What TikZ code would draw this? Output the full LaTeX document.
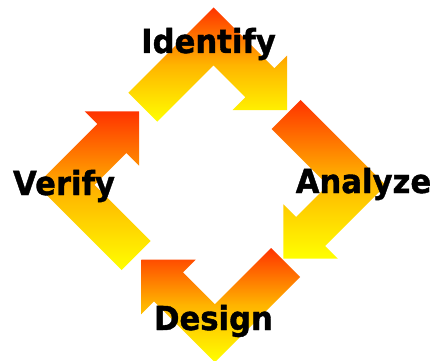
\documentclass[tikz,border=0pt]{standalone}
\usepackage{fontspec}
\newfontfamily\lblfont{DejaVu Sans}[BoldFeatures={FakeBold=1.2}]
\definecolor{arrtop}{RGB}{255,51,0}
\definecolor{arrmid}{RGB}{255,180,0}
\definecolor{arrbot}{RGB}{255,255,0}
\tikzset{
  cycarrow/.style={top color=arrtop, bottom color=arrbot, middle color=arrmid},
  steplabel/.style={anchor=base, inner sep=0pt, text=black, xscale=0.93,
    font=\lblfont\bfseries\fontsize{33}{33}\selectfont}
}
\begin{document}
\begin{tikzpicture}[x=1pt,y=-1pt]
\clip (0,0) rectangle (434,361);
\fill[white] (0,0) rectangle (434,361);
% top arrow (Identify)
\shade[cycarrow] (128.29,92.71) -- (213.5,7.5) -- (274.31,68.31) -- (287.04,55.58)
  -- (287.04,110.03) -- (232.59,110.03) -- (245.32,97.30) -- (213.5,65.48)
  -- (157.28,121.70) -- cycle;
% right arrow (Analyze)
\shade[cycarrow] (300.69,99.99) -- (385.9,185.2) -- (325.09,246.01) -- (337.82,258.74)
  -- (283.37,258.74) -- (283.37,204.29) -- (296.10,217.02) -- (327.92,185.2)
  -- (271.70,128.98) -- cycle;
% bottom arrow (Design)
\shade[cycarrow] (300.01,276.99) -- (214.8,362.2) -- (153.99,301.39) -- (141.26,314.12)
  -- (141.26,259.67) -- (195.71,259.67) -- (182.98,272.40) -- (214.8,304.22)
  -- (271.02,248.0) -- cycle;
% left arrow (Verify)
\shade[cycarrow] (121.71,270.01) -- (36.5,184.8) -- (97.31,124.0) -- (84.58,111.26)
  -- (139.03,111.26) -- (139.03,165.71) -- (126.30,152.98) -- (94.48,184.8)
  -- (150.70,241.02) -- cycle;
% labels
\node[steplabel] (identify) at (208.5,53) {Identify};
\node[steplabel] (analyze) at (363.5,193) {Analyze};
\node[steplabel] (design) at (213.5,330) {Design};
\node[steplabel] (verify) at (64,195) {Verify};
\end{tikzpicture}
\end{document}
